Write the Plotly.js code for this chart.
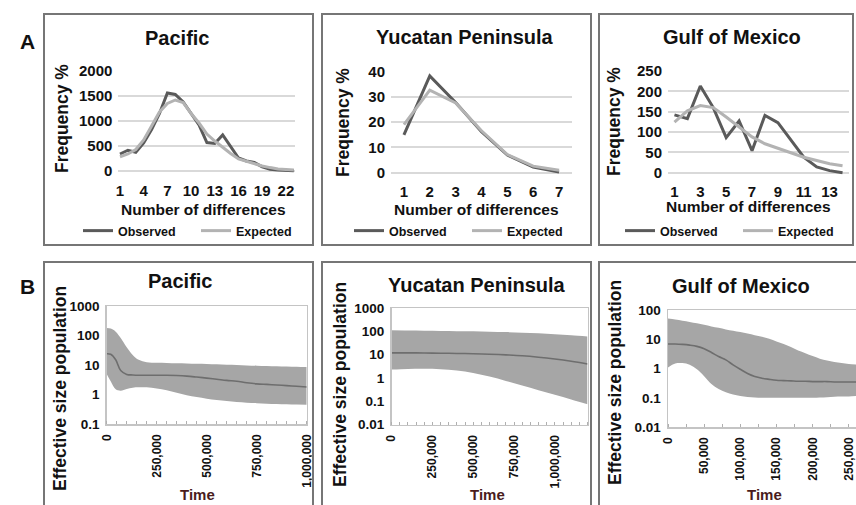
<!DOCTYPE html>
<html>
<head>
<meta charset="utf-8">
<script src="https://cdn.plot.ly/plotly-3.0.1.min.js"></script>
<style>html,body{margin:0;padding:0;background:#fff;overflow:hidden;}#chart{width:856px;height:505px;}</style>
</head>
<body>
<div id="chart"></div>
<script>
// ---------- Data ----------
// A: mismatch distributions
const pacDiff = [1,2,3,4,5,6,7,8,9,10,11,12,13,14,15,16,17,18,19,20,21,22,23];
const pacObs  = [340,415,375,560,830,1150,1560,1530,1380,1150,920,570,550,720,480,260,200,170,85,35,20,12,5];
const pacExp  = [285,340,430,620,900,1180,1350,1420,1370,1150,960,740,600,470,350,240,195,140,100,68,40,28,18];
const pacDiffTicks = [1,4,7,10,13,16,19,22];

const yucDiff = [1,2,3,4,5,6,7];
const yucObs  = [15,38.3,27.8,16.2,7,2.2,0.3];
const yucExp  = [19,32.7,27.6,16.6,7.2,2.6,1.0];

const gulfDiff = [1,2,3,4,5,6,7,8,9,10,11,12,13,14];
const gulfObs  = [142,133,213,160,86,127,54,141,123,80,38,14,5,0];
const gulfExp  = [124,152,165,160,137,112,88,71,60,50,38,30,22,17];
const gulfDiffTicks = [1,3,5,7,9,11,13];

// B: Bayesian skyline plots (effective population size vs time)
const pacTime   = [0,20000,45000,70000,100000,130000,160000,200000,250000,300000,350000,400000,450000,500000,550000,600000,650000,700000,750000,800000,850000,900000,950000,1000000];
const pacUpper  = [180,172,135,82,40,22,15,12.5,12,11.8,11.5,11.3,11,10.8,10.5,10.2,10,9.7,9.5,9.3,9.1,8.9,8.7,8.5];
const pacMedian = [24,23,15,6.5,4.8,4.6,4.5,4.5,4.5,4.5,4.4,4.2,3.9,3.6,3.3,3.0,2.8,2.5,2.3,2.2,2.1,2.0,1.9,1.8];
const pacLower  = [5,2.8,1.5,1.35,1.55,1.7,1.75,1.75,1.6,1.4,1.15,0.95,0.82,0.72,0.65,0.6,0.56,0.53,0.51,0.49,0.48,0.47,0.46,0.45];
const pacTimeTicks = [0,250000,500000,750000,1000000];

const yucTime   = [0,100000,200000,300000,400000,500000,600000,700000,800000,900000,1000000,1100000,1200000];
const yucUpper  = [110,108,106,104,102,100,97,93,88,82,75,68,60];
const yucMedian = [12,12,11.8,11.6,11.3,11,10.5,9.8,9,7.8,6.5,5.2,4.0];
const yucLower  = [2.3,2.45,2.5,2.4,2.1,1.65,1.15,0.75,0.48,0.3,0.19,0.12,0.075];
const yucTimeTicks = [0,250000,500000,750000,1000000];

const gulfTime   = [0,10000,20000,30000,40000,50000,60000,70000,80000,90000,100000,110000,120000,130000,140000,150000,160000,170000,180000,190000,200000,210000,220000,230000,240000,250000,260000];
const gulfUpper  = [52,48,44,40,36,32,28,25,22,20,18,16,14,12.5,10.5,8.5,7,5.5,4.2,3.4,2.7,2.2,1.9,1.7,1.55,1.45,1.4];
const gulfMedian = [7,7,6.8,6.4,5.8,4.8,3.6,2.6,2.0,1.35,0.95,0.68,0.54,0.47,0.43,0.4,0.39,0.38,0.37,0.37,0.36,0.36,0.36,0.35,0.35,0.35,0.35];
const gulfLower  = [1.1,1.5,1.55,1.35,0.95,0.55,0.3,0.2,0.155,0.13,0.115,0.107,0.102,0.1,0.1,0.1,0.1,0.1,0.1,0.1,0.1,0.102,0.105,0.108,0.11,0.112,0.115];
const gulfTimeTicks = [0,50000,100000,150000,200000,250000];

const logTickVals = [0.01,0.1,1,10,100,1000];
const logTickText = ['0.01','0.1','1','10','100','1000'];

// ---------- Helpers ----------
const W = 856, H = 505;
const F = 'Liberation Sans, Arial, sans-serif';
const dx = (a,b) => [a/W, b/W];
const dy = (top,bot) => [1-bot/H, 1-top/H];
const px = x => x/W, py = y => 1-y/H;

const OBS = '#5a5a5a', EXP = '#b3b3b3', BAND = '#a6a6a6', MED = '#6e6e6e';

const traces = [];
function addMismatch(xs, obs, exp, ax, leg) {
  traces.push({x: xs, y: obs, xaxis:'x'+ax, yaxis:'y'+ax, type:'scatter', mode:'lines',
    name:'Observed', line:{color:OBS, width:3}, legend:leg, showlegend:true});
  traces.push({x: xs, y: exp, xaxis:'x'+ax, yaxis:'y'+ax, type:'scatter', mode:'lines',
    name:'Expected', line:{color:EXP, width:3}, legend:leg, showlegend:true});
}
addMismatch(pacDiff, pacObs, pacExp, '', 'legend');
addMismatch(yucDiff, yucObs, yucExp, '2', 'legend2');
addMismatch(gulfDiff, gulfObs, gulfExp, '3', 'legend3');

function addSkyline(t, up, med, lo, ax) {
  traces.push({x:t, y:lo, xaxis:'x'+ax, yaxis:'y'+ax, type:'scatter', mode:'lines',
    line:{width:0, color:BAND, shape:'spline'}, showlegend:false, hoverinfo:'skip'});
  traces.push({x:t, y:up, xaxis:'x'+ax, yaxis:'y'+ax, type:'scatter', mode:'lines',
    fill:'tonexty', fillcolor:BAND, line:{width:0, color:BAND, shape:'spline'}, showlegend:false, hoverinfo:'skip'});
  traces.push({x:t, y:med, xaxis:'x'+ax, yaxis:'y'+ax, type:'scatter', mode:'lines',
    line:{width:1.6, color:MED, shape:'spline'}, showlegend:false});
}
addSkyline(pacTime, pacUpper, pacMedian, pacLower, '4');
addSkyline(yucTime, yucUpper, yucMedian, yucLower, '5');
addSkyline(gulfTime, gulfUpper, gulfMedian, gulfLower, '6');

// ---------- Axes ----------
const tickFontA = {family:F, size:15, color:'#111', weight:'bold'};
function aX(domain, range, tickvals, anchor) {
  return {domain, range, tickvals, anchor, showgrid:false, zeroline:false, showline:false,
    ticks:'', tickfont:tickFontA, ticklabelstandoff:6, fixedrange:true, automargin:false};
}
function aY(domain, range, dtick, anchor) {
  return {domain, range, dtick, anchor, showgrid:true, gridcolor:'#d9d9d9', gridwidth:2,
    zeroline:false, showline:false, ticks:'', tickfont:tickFontA, ticklabelstandoff:5, fixedrange:true, automargin:false};
}
const tickFontBx = {family:F, size:12, color:'#111', weight:'bold'};
const tickFontBy = {family:F, size:13.5, color:'#111', weight:'bold'};
function bX(domain, range, tickvals, anchor, minorD) {
  return {domain, range, tickvals, anchor, tickformat:',d', tickangle:-90, showgrid:false, zeroline:false,
    showline:true, linecolor:'#c4c4c4', linewidth:1.5, mirror:true, ticks:'', tickfont:tickFontBx,
    ticklabelstandoff:4, minor:{ticks:'inside', ticklen:3, tickcolor:'#b0b0b0', dtick:minorD, tickmode:'linear'},
    fixedrange:true, automargin:false};
}
function bY(domain, range, anchor, mirror) {
  return {domain, range, type:'log', tickvals:logTickVals, ticktext:logTickText, anchor, showgrid:false,
    zeroline:false, showline:true, linecolor:'#c4c4c4', linewidth:1.5, mirror:mirror, ticks:'',
    tickfont:tickFontBy, ticklabelstandoff:3, fixedrange:true, automargin:false};
}

// ---------- Annotations ----------
const ann = [];
function txt(x, y, s, size, opts) {
  ann.push(Object.assign({xref:'paper', yref:'paper', x:px(x), y:py(y), text:s, showarrow:false,
    xanchor:'center', yanchor:'middle', font:{family:F, size:size, color:'#111', weight:'bold'}}, opts||{}));
}
// panel letters
txt(28, 42, 'A', 21);
txt(28, 286, 'B', 21);
// A titles
txt(177, 38, 'Pacific', 20);
txt(465, 37, 'Yucatan Peninsula', 20);
txt(732, 37, 'Gulf of Mexico', 20);
txt(62, 118, 'Frequency %', 17.5, {textangle:-90});
txt(343, 123, 'Frequency %', 17.5, {textangle:-90});
txt(614, 122, 'Frequency %', 17.5, {textangle:-90});
txt(203, 210, 'Number of differences', 15.5);
txt(477, 210, 'Number of differences', 15.5);
txt(748, 207, 'Number of differences', 15.5);
// B titles
txt(180, 281, 'Pacific', 20);
txt(477, 285, 'Yucatan Peninsula', 20);
txt(741, 286, 'Gulf of Mexico', 20);
txt(60, 388, 'Effective size population', 17.5, {textangle:-90});
txt(340, 385, 'Effective size population', 17.5, {textangle:-90});
txt(615, 383, 'Effective size population', 17.5, {textangle:-90});
const timeFont = {family:F, size:15, color:'#4a1c1c', weight:'bold'};
txt(197, 494, 'Time', 15, {font:timeFont});
txt(488, 494, 'Time', 15, {font:timeFont});
txt(764, 494, 'Time', 15, {font:timeFont});

// ---------- Panel frames ----------
const border = {color:'#767676', width:2};
const shapes = [
  {type:'rect', xref:'paper', yref:'paper', x0:px(44), x1:px(313), y0:py(245), y1:py(14), line:border},
  {type:'rect', xref:'paper', yref:'paper', x0:px(322), x1:px(591), y0:py(245), y1:py(14), line:border},
  {type:'rect', xref:'paper', yref:'paper', x0:px(599), x1:px(853), y0:py(245), y1:py(14), line:border},
  {type:'rect', xref:'paper', yref:'paper', x0:px(44), x1:px(313), y0:py(520), y1:py(262), line:border},
  {type:'rect', xref:'paper', yref:'paper', x0:px(322), x1:px(591), y0:py(520), y1:py(262), line:border},
  {type:'rect', xref:'paper', yref:'paper', x0:px(599), x1:px(880), y0:py(520), y1:py(262), line:border}
];

const legFont = {family:F, size:12.5, color:'#111', weight:'bold'};
function leg(x, y) {
  return {xref:'container', yref:'container', x:px(x), y:py(y), xanchor:'left', yanchor:'middle', orientation:'h', font:legFont,
    entrywidth:73, entrywidthmode:'pixels', bgcolor:'rgba(0,0,0,0)', borderwidth:0, traceorder:'normal'};
}

const layout = {
  width:W, height:H, autosize:false, margin:{l:0, r:0, t:0, b:0, pad:0, autoexpand:false},
  paper_bgcolor:'#fff', plot_bgcolor:'rgba(0,0,0,0)',
  showlegend:true,
  xaxis:  aX(dx(118.4, 295.4), [0.8, 23.2], pacDiffTicks, 'y'),
  yaxis:  aY(dy(71, 173.5), [-50, 2000], 500, 'x'),
  xaxis2: aX(dx(391, 572), [0.5, 7.5], yucDiff, 'y2'),
  yaxis2: aY(dy(71.7, 175.2), [-1, 40], 10, 'x2'),
  xaxis3: aX(dx(668, 849), [0.5, 14.5], gulfDiffTicks, 'y3'),
  yaxis3: aY(dy(71, 174.7), [-5, 250], 50, 'x3'),
  xaxis4: bX(dx(106.7, 306.7), [0, 1000000], pacTimeTicks, 'y4', 50000),
  yaxis4: bY(dy(306, 424), [-1, 3], 'x4', true),
  xaxis5: bX(dx(391.5, 587.5), [0, 1200000], yucTimeTicks, 'y5', 50000),
  yaxis5: bY(dy(308, 424.7), [-2, 3], 'x5', true),
  xaxis6: bX(dx(668, 856), [0, 260000], gulfTimeTicks, 'y6', 25000),
  yaxis6: bY(dy(310.3, 427), [-2, 2], 'x6', false),
  legend:  leg(78, 231),
  legend2: leg(349, 231),
  legend3: leg(620, 231),
  annotations: ann,
  shapes: shapes
};

Plotly.newPlot('chart', traces, layout, {displayModeBar:false, staticPlot:true});
</script>
</body>
</html>
